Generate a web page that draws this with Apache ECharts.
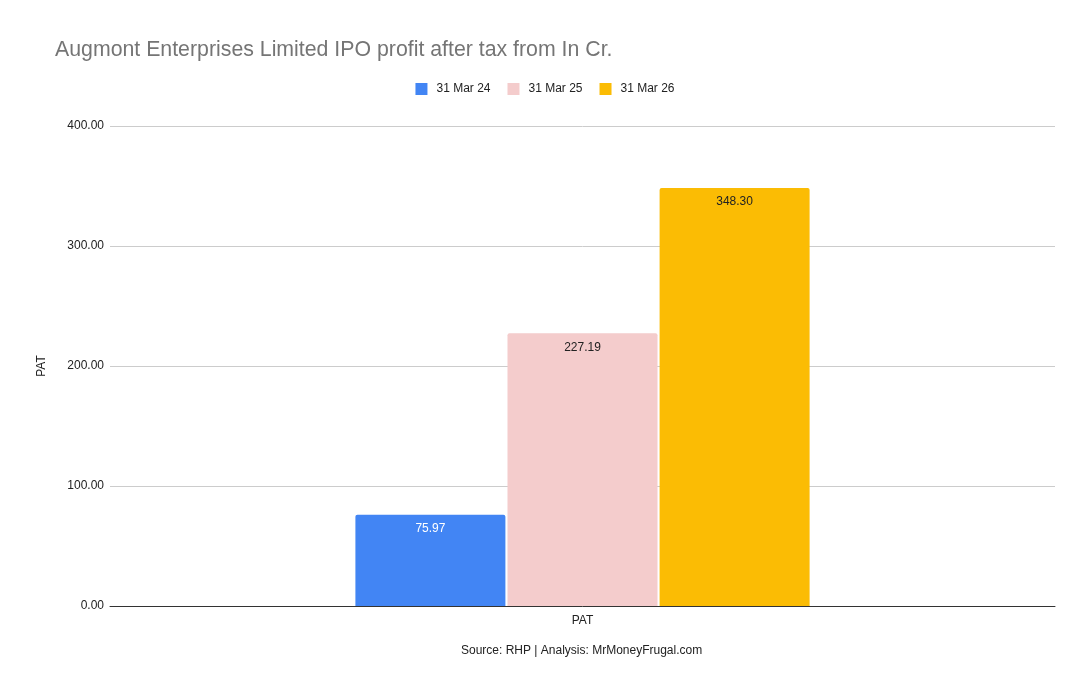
<!DOCTYPE html>
<html>
<head>
<meta charset="utf-8">
<script src="https://cdn.jsdelivr.net/npm/echarts@6/dist/echarts.min.js"></script>
<style>
  html, body { margin: 0; padding: 0; background: #fff; }
  #chart { width: 1090px; height: 694px; }
</style>
</head>
<body>
<div id="chart"></div>
<script>
var categories = ["PAT"];
var seriesNames = ["31 Mar 24", "31 Mar 25", "31 Mar 26"];
var seriesValues = [[75.97], [227.19], [348.3]];
var colors = ["#4285F4", "#F4CCCC", "#FBBC04"];
var labelColors = ["#ffffff", "#222222", "#222222"];
var yTicks = [0, 100, 200, 300, 400];

var FONT = "'Liberation Sans', Arial, sans-serif";
var chart = echarts.init(document.getElementById("chart"));

var series = seriesNames.map(function (name, i) {
  return {
    name: name,
    type: "bar",
    data: seriesValues[i],
    barWidth: 150,
    barGap: "1.4%",
    itemStyle: { color: colors[i], borderRadius: [2, 2, 0, 0] },
    label: {
      show: true,
      position: "insideTop",
      distance: 8,
      color: labelColors[i],
      fontFamily: FONT,
      fontSize: 12,
      formatter: function (p) { return p.value.toFixed(2); }
    }
  };
});

var option = {
  animation: false,
  color: colors,
  textStyle: { fontFamily: FONT },
  title: {
    text: "Augmont Enterprises Limited IPO profit after tax from In Cr.",
    left: 50,
    top: 35,
    textStyle: { fontFamily: FONT, fontSize: 21.3, fontWeight: "normal", color: "#757575" }
  },
  legend: {
    data: seriesNames,
    top: 78,
    left: "center",
    itemWidth: 12,
    itemHeight: 12,
    itemGap: 17,
    icon: "rect",
    textStyle: { fontFamily: FONT, fontSize: 12, color: "#222", padding: [0, 0, 0, 4] }
  },
  grid: { left: 110, right: 35, top: 126, bottom: 88, containLabel: false },
  xAxis: {
    type: "category",
    data: categories,
    axisLine: { lineStyle: { color: "#333", width: 1 } },
    axisTick: { show: false },
    axisLabel: { fontFamily: FONT, fontSize: 12, color: "#222", margin: 9 }
  },
  yAxis: {
    type: "value",
    min: yTicks[0],
    max: yTicks[yTicks.length - 1],
    interval: 100,
    name: "PAT",
    nameLocation: "middle",
    nameGap: 62,
    nameRotate: 90,
    nameTextStyle: { fontFamily: FONT, fontSize: 12, color: "#222" },
    axisLine: { show: false },
    axisTick: { show: false },
    splitLine: { lineStyle: { color: "#cccccc" } },
    axisLabel: {
      fontFamily: FONT,
      fontSize: 12,
      color: "#222",
      margin: 6,
      padding: [2, 0, 0, 0],
      formatter: function (v) { return v.toFixed(2); }
    }
  },
  graphic: [{
    type: "text",
    left: 461,
    top: 645,
    style: {
      text: "Source: RHP | Analysis: MrMoneyFrugal.com",
      font: "12px " + FONT,
      fill: "#222"
    }
  }],
  series: series
};

chart.setOption(option);
window.addEventListener("resize", chart.resize);
</script>
</body>
</html>
